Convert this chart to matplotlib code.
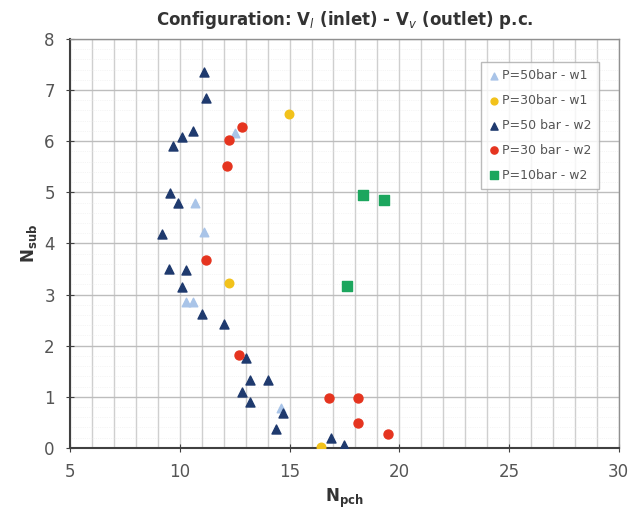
import numpy as np
import matplotlib.pyplot as plt
from matplotlib.ticker import MultipleLocator

# data (N_pch, N_sub)
p50_w1_x = [11.1, 10.7, 12.5, 10.3, 10.6, 14.6]
p50_w1_y = [4.23, 4.79, 6.15, 2.85, 2.85, 0.78]

p30_w1_x = [14.97, 12.25, 16.45]
p30_w1_y = [6.54, 3.22, 0.01]

p50_w2_x = [11.1, 11.2, 10.6, 10.1, 9.7, 9.55, 9.9, 9.2, 9.5, 10.3, 10.1, 11.0,
            12.0, 13.0, 13.2, 14.0, 12.85, 13.2, 14.7, 14.4, 16.9, 17.5]
p50_w2_y = [7.35, 6.84, 6.19, 6.09, 5.91, 4.98, 4.79, 4.18, 3.5, 3.48, 3.15, 2.62,
            2.43, 1.75, 1.32, 1.32, 1.1, 0.89, 0.68, 0.37, 0.19, 0.06]

p30_w2_x = [12.85, 12.24, 12.15, 11.2, 12.7, 16.8, 18.1, 18.1, 19.5]
p30_w2_y = [6.28, 6.03, 5.52, 3.67, 1.82, 0.97, 0.97, 0.48, 0.27]

p10_w2_x = [18.36, 19.3, 17.6]
p10_w2_y = [4.95, 4.85, 3.17]

fig = plt.figure(figsize=(6.32, 5.19), dpi=100)
ax = fig.add_axes([0.111, 0.137, 0.868, 0.788])

ax.scatter(p50_w1_x, p50_w1_y, marker='^', s=38, c='#a9c4e8', label='P=50bar - w1', zorder=3)
ax.scatter(p30_w1_x, p30_w1_y, marker='o', s=38, c='#f2c21b', label='P=30bar - w1', zorder=3)
ax.scatter(p50_w2_x, p50_w2_y, marker='^', s=42, c='#1f3a6e', label='P=50 bar - w2', zorder=4)
ax.scatter(p30_w2_x, p30_w2_y, marker='o', s=42, c='#e5341f', label='P=30 bar - w2', zorder=4)
ax.scatter(p10_w2_x, p10_w2_y, marker='s', s=52, c='#1ca65e', label='P=10bar - w2', zorder=4)

ax.set_xlim(5, 30)
ax.set_ylim(0, 8)
ax.xaxis.set_major_locator(MultipleLocator(5))
ax.xaxis.set_minor_locator(MultipleLocator(1))
ax.yaxis.set_major_locator(MultipleLocator(1))
ax.yaxis.set_minor_locator(MultipleLocator(0.2))

ax.grid(which='major', axis='y', color='#bdbdbd', lw=1.0)
ax.grid(which='minor', axis='x', color='#cfcfcf', lw=1.0)
ax.grid(which='major', axis='x', color='#cfcfcf', lw=1.0)
ax.grid(which='minor', axis='y', color='#ececec', lw=0.5, ls=':')
ax.set_axisbelow(True)

for s in ['left', 'bottom']:
    ax.spines[s].set_color('#404040')
    ax.spines[s].set_linewidth(1.5)
for s in ['top', 'right']:
    ax.spines[s].set_color('#909090')
    ax.spines[s].set_linewidth(1.0)

ax.tick_params(which='major', direction='inout', length=6, labelsize=12, colors='#404040',
               labelcolor='#555555', pad=8)
ax.tick_params(which='minor', length=0)

ax.set_title('Configuration: V$_l$ (inlet) - V$_v$ (outlet) p.c.', fontsize=12,
             fontweight='bold', color='#333333', pad=10)
ax.set_xlabel('N$_{\\mathbf{pch}}$', fontsize=12, fontweight='bold', color='#333333')
ax.set_ylabel('N$_{\\mathbf{sub}}$', fontsize=12, fontweight='bold', color='#333333')

leg = ax.legend(loc='upper right', fontsize=9, frameon=True, fancybox=False,
                edgecolor='#aaaaaa', handletextpad=0.1, borderpad=0.6,
                labelspacing=0.95, handlelength=1.0, markerscale=0.8,
                bbox_to_anchor=(0.975, 0.96))
for t in leg.get_texts():
    t.set_color('#555555')

fig.savefig('out.png', dpi=100)
